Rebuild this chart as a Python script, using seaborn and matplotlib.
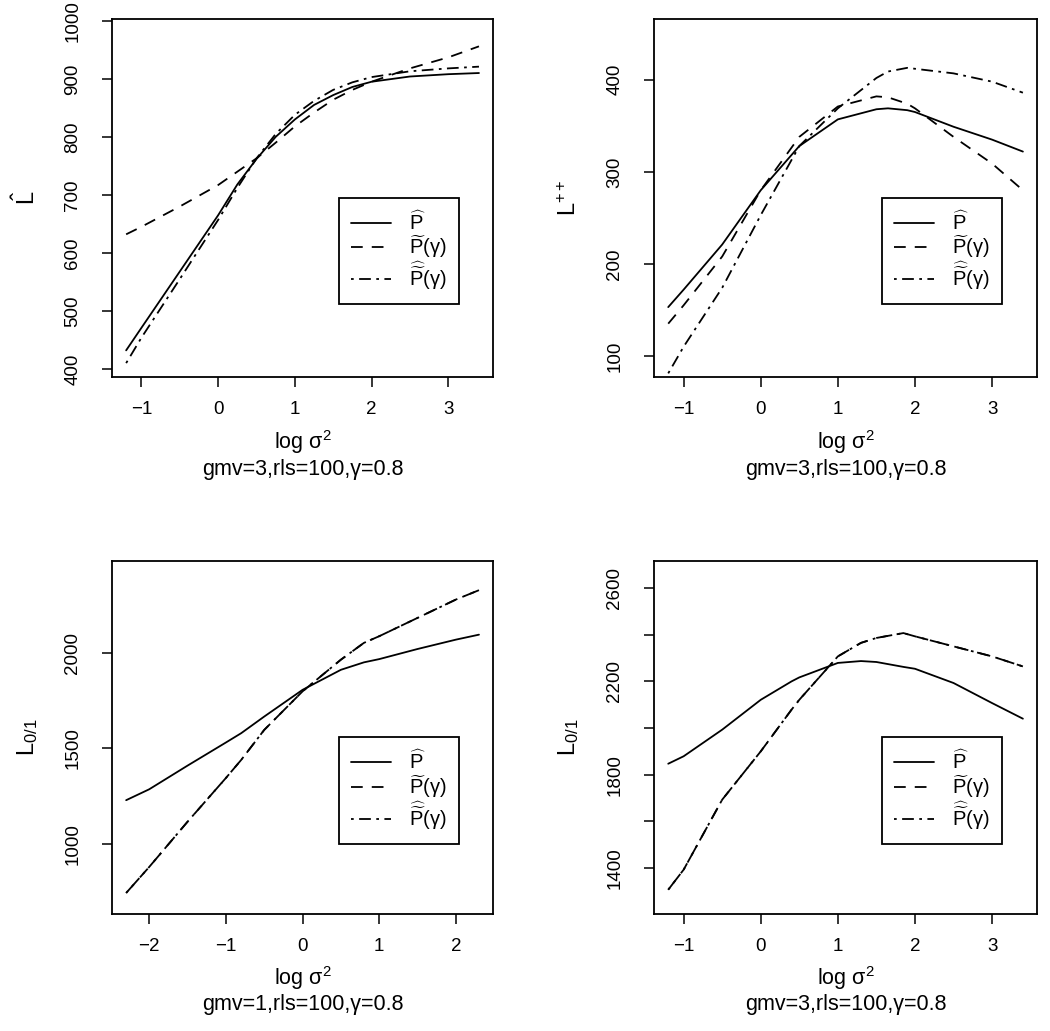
import numpy as np
import pandas as pd
import seaborn as sns
import matplotlib.pyplot as plt

sns.set_style("ticks")
plt.rcParams['font.family'] = ['Liberation Sans', 'DejaVu Sans']
plt.rcParams['mathtext.fontset'] = 'custom'
plt.rcParams['mathtext.rm'] = 'Liberation Sans'
plt.rcParams['mathtext.it'] = 'Liberation Sans:italic'
plt.rcParams['mathtext.sf'] = 'Liberation Sans'
for k in ['text.color', 'axes.labelcolor', 'xtick.color', 'ytick.color', 'axes.edgecolor']:
    plt.rcParams[k] = 'black'

# panel 1: L-hat, gmv=3
x1 = [-1.2, -1.0, -0.5, 0.0, 0.25, 0.5, 0.75, 1.0, 1.25, 1.5, 1.75, 2.0, 2.5, 3.0, 3.4]
p1_hat = [432, 471, 568, 665, 718, 762, 800, 830, 855, 872, 886, 895, 904, 908, 910]
p1_tilde = [632, 645, 680, 717, 740, 763, 790, 818, 842, 864, 881, 895, 918, 937, 956]
p1_dbl = [410, 454, 555, 657, 712, 763, 805, 838, 862, 881, 894, 903, 913, 918, 921]

# panel 2: L++, gmv=3
x2 = [-1.2, -1.0, -0.5, 0.0, 0.5, 1.0, 1.5, 1.65, 1.9, 2.0, 2.5, 3.0, 3.4]
p2_hat = [153, 172, 221, 280, 328, 357, 368, 369, 367, 365, 349, 335, 322]
p2_tilde = [135, 155, 208, 280, 338, 371, 382, 381, 374, 369, 338, 309, 280]
p2_dbl = [81, 110, 174, 253, 328, 369, 402, 409, 413, 412, 407, 398, 386]

# panel 3: L0/1, gmv=1
x3 = [-2.3, -2.0, -1.5, -1.0, -0.8, -0.5, 0.0, 0.5, 0.8, 1.0, 1.5, 2.0, 2.3]
p3_hat = [1229, 1286, 1410, 1531, 1580, 1667, 1807, 1912, 1951, 1968, 2021, 2070, 2096]
p3_tilde = [743, 879, 1116, 1345, 1440, 1597, 1799, 1965, 2053, 2088, 2184, 2280, 2329]
p3_dbl = [743, 879, 1116, 1345, 1440, 1597, 1799, 1965, 2053, 2088, 2184, 2280, 2329]

# panel 4: L0/1, gmv=3
x4 = [-1.2, -1.0, -0.5, 0.0, 0.4, 0.5, 1.0, 1.3, 1.5, 1.85, 2.0, 2.5, 3.0, 3.4]
p4_hat = [1847, 1879, 1993, 2121, 2200, 2217, 2279, 2287, 2283, 2262, 2254, 2193, 2107, 2040]
p4_tilde = [1307, 1393, 1693, 1900, 2079, 2121, 2307, 2365, 2386, 2407, 2393, 2350, 2307, 2264]
p4_dbl = [1307, 1393, 1693, 1900, 2079, 2121, 2307, 2365, 2386, 2407, 2393, 2350, 2307, 2264]

labels = [r'$\widehat{\mathrm{P}}$',
          r'$\widetilde{\mathrm{P}}$(γ)',
          r'$\widehat{\widetilde{\mathrm{P}}}$(γ)']
styles = ['-', (0, (6.5, 5)), (0, (1.5, 3, 6.5, 3))]

panels = [
    dict(x=x1, ys=[p1_hat, p1_tilde, p1_dbl], ylabel=r'$\hat{\mathrm{L}}$',
         ylim=(386, 1003), xlim=(-1.384, 3.584), yticks=range(400, 1001, 100),
         ylabs=None, xticks=[-1, 0, 1, 2, 3], sub='gmv=3,rls=100,γ=0.8',
         pos=[0.1067, 0.6343, 0.3629, 0.3472]),
    dict(x=x2, ys=[p2_hat, p2_tilde, p2_dbl], ylabel=r'$\mathrm{L}^{++}$',
         ylim=(77, 466), xlim=(-1.384, 3.584), yticks=[100, 200, 300, 400],
         ylabs=None, xticks=[-1, 0, 1, 2, 3], sub='gmv=3,rls=100,γ=0.8',
         pos=[0.6229, 0.6343, 0.3648, 0.3472]),
    dict(x=x3, ys=[p3_hat, p3_tilde, p3_dbl], ylabel=r'$\mathrm{L}_{0/1}$',
         ylim=(633, 2482), xlim=(-2.484, 2.484), yticks=[1000, 1500, 2000],
         ylabs=None, xticks=[-2, -1, 0, 1, 2], sub='gmv=1,rls=100,γ=0.8',
         pos=[0.1067, 0.1135, 0.3629, 0.3424]),
    dict(x=x4, ys=[p4_hat, p4_tilde, p4_dbl], ylabel=r'$\mathrm{L}_{0/1}$',
         ylim=(1203, 2716), xlim=(-1.384, 3.584), yticks=range(1400, 2601, 200),
         ylabs=['1400', '', '1800', '', '2200', '', '2600'],
         xticks=[-1, 0, 1, 2, 3], sub='gmv=3,rls=100,γ=0.8',
         pos=[0.6229, 0.1135, 0.3648, 0.3424]),
]

fig = plt.figure(figsize=(10.5, 10.31), dpi=100)

for p in panels:
    ax = fig.add_axes(p['pos'])
    for y, lab, ls in zip(p['ys'], labels, styles):
        sns.lineplot(x=p['x'], y=y, ax=ax, color='black', linewidth=1.3,
                     linestyle=ls, label=lab)
    ax.set_xlim(p['xlim'])
    ax.set_ylim(p['ylim'])
    ax.set_xticks(p['xticks'])
    ax.set_xticklabels([str(t).replace('-', '\u2212') for t in p['xticks']])
    ax.set_yticks(list(p['yticks']))
    if p['ylabs'] is not None:
        ax.set_yticklabels(p['ylabs'])
    else:
        ax.set_yticklabels([str(t) for t in p['yticks']])
    for lbl in ax.get_yticklabels():
        lbl.set_rotation(90)
        lbl.set_va('center')
    ax.tick_params(axis='both', direction='out', length=7, width=1.1,
                   labelsize=13.5, color='black', labelcolor='black')
    ax.tick_params(axis='x', pad=10)
    ax.tick_params(axis='y', pad=15)
    for sp in ax.spines.values():
        sp.set_linewidth(1.3)
        sp.set_color('black')
    ax.set_xlabel('')
    ax.set_ylabel(p['ylabel'], fontsize=17)
    ax.yaxis.set_label_coords(-0.19, 0.5)
    ax.text(0.5, -0.2, 'log σ$^2$', transform=ax.transAxes,
            ha='center', va='baseline', fontsize=15.5)
    ax.text(0.5, -0.273, p['sub'], transform=ax.transAxes,
            ha='center', va='baseline', fontsize=15.5)
    leg = ax.legend(loc='upper left', bbox_to_anchor=(0.595, 0.5),
                    borderaxespad=0, frameon=True, fancybox=False,
                    edgecolor='black', framealpha=1, fontsize=14.5,
                    handlelength=2.0, handletextpad=0.9, labelspacing=0.0,
                    borderpad=0.6)
    leg.get_frame().set_linewidth(1.3)

fig.savefig('out.png', dpi=100)
